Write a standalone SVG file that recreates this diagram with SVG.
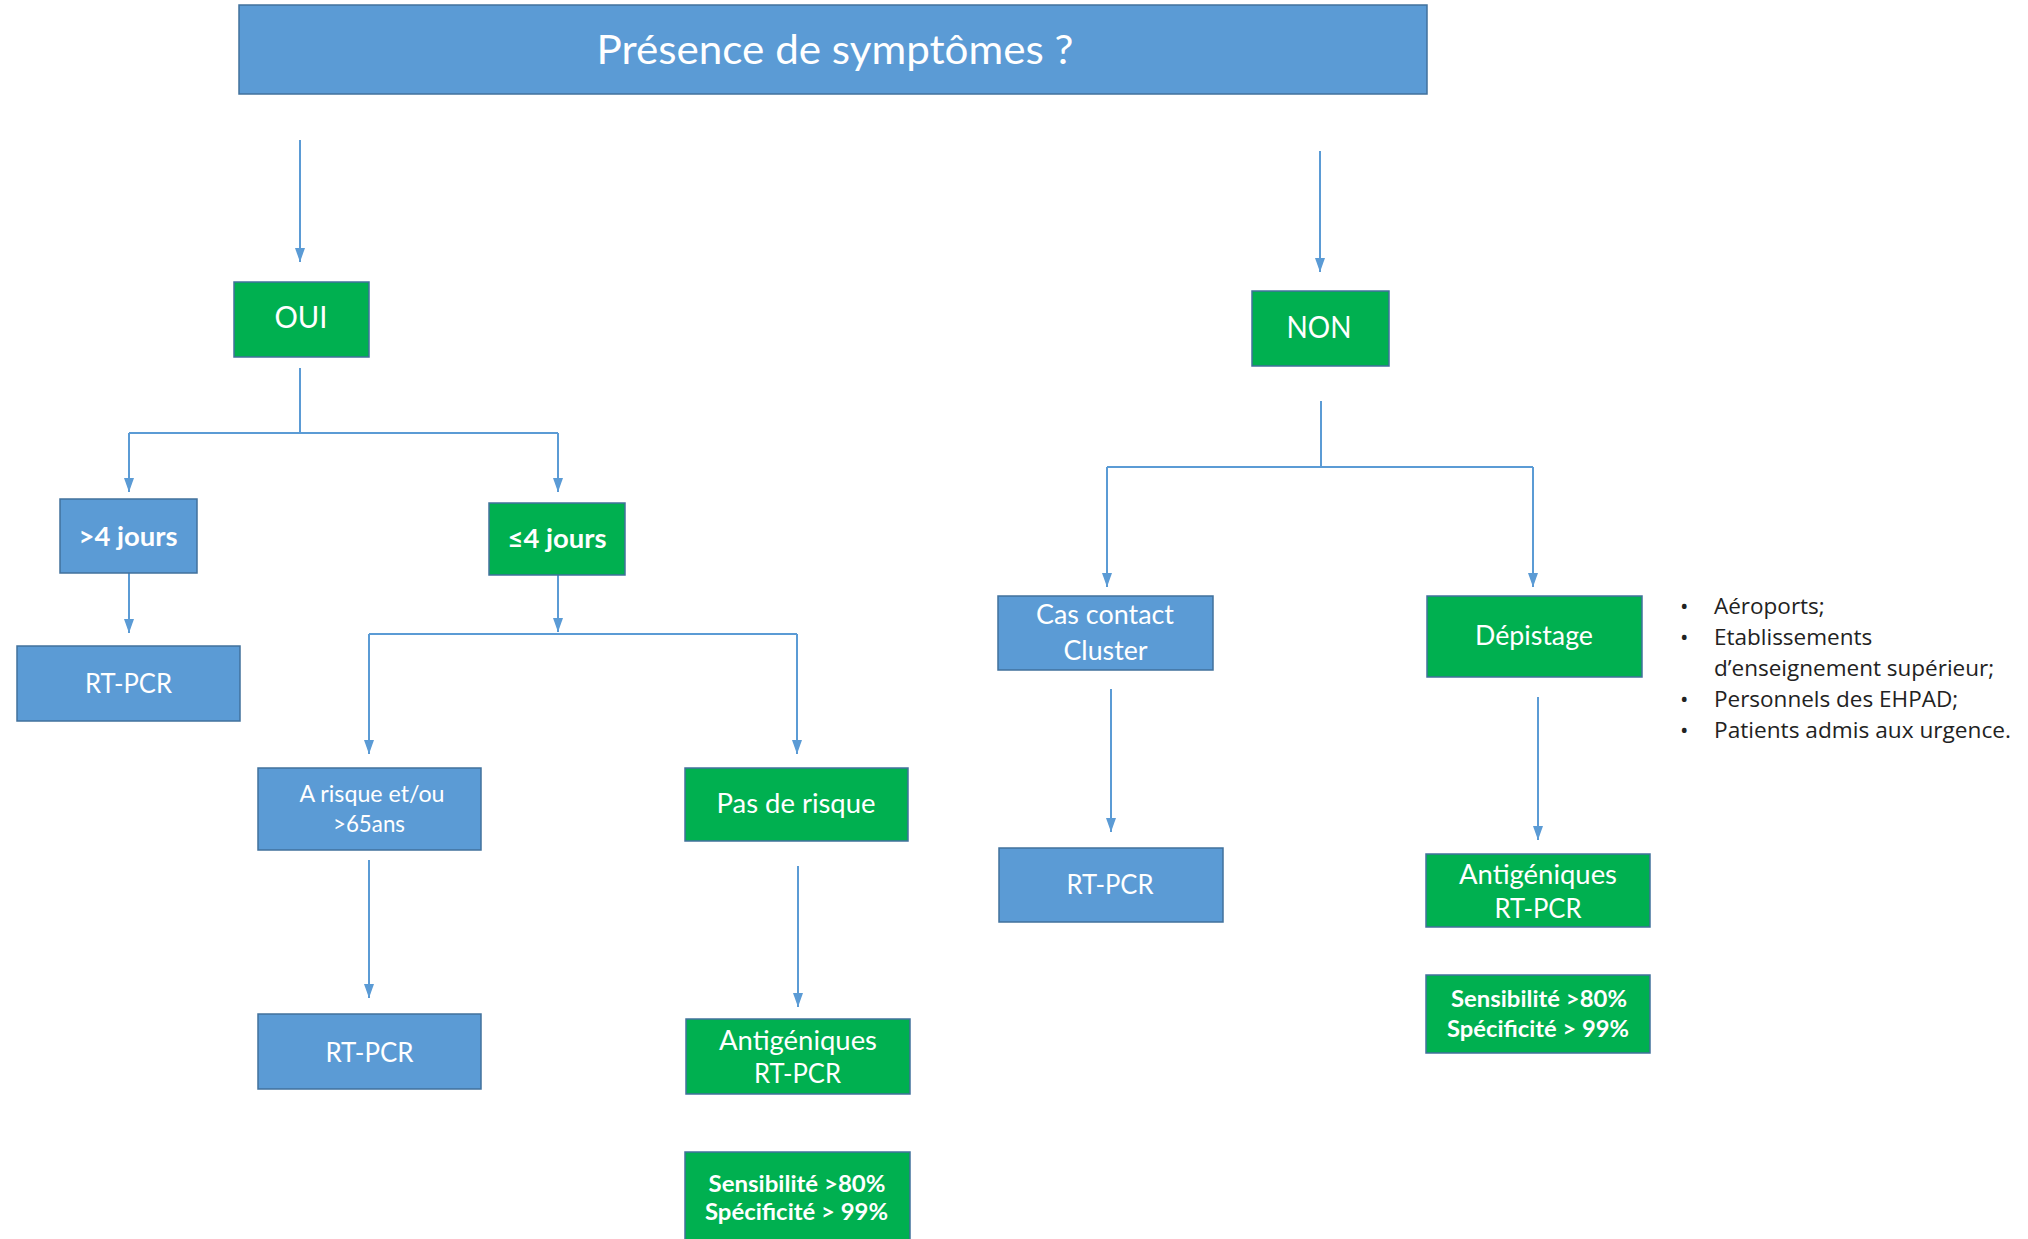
<svg xmlns="http://www.w3.org/2000/svg" width="2028" height="1239" viewBox="0 0 2028 1239">
<style>
.b{fill:#5B9BD5;stroke:#41719C;stroke-width:1.5}
.g{fill:#00B050;stroke:#41719C;stroke-width:1.5}
.t{font-family:Lato,"Liberation Sans",sans-serif;fill:#fff;text-anchor:middle}
.bd{font-weight:bold}
.c{fill:none;stroke:#5B9BD5;stroke-width:2}
.l{font-family:"Open Sans","Liberation Sans",sans-serif;fill:#222;font-size:22.5px}
</style>
<defs>
<marker id="ar" viewBox="0 0 14 10" refX="14" refY="5" markerWidth="14" markerHeight="10" orient="auto" markerUnits="userSpaceOnUse">
<path d="M0,0 L14,5 L0,10 z" fill="#5B9BD5"/>
</marker>
</defs>
<rect width="2028" height="1239" fill="#fff"/>
<g id="connectors">
<path class="c" d="M300,140 V262" marker-end="url(#ar)"/>
<path class="c" d="M1320,151 V272" marker-end="url(#ar)"/>
<path class="c" d="M300,368 V433 M129,433 H558"/>
<path class="c" d="M129,433 V492" marker-end="url(#ar)"/>
<path class="c" d="M558,433 V492" marker-end="url(#ar)"/>
<path class="c" d="M129,573 V633" marker-end="url(#ar)"/>
<path class="c" d="M558,575 V632" marker-end="url(#ar)"/>
<path class="c" d="M369,634 H797"/>
<path class="c" d="M369,634 V754" marker-end="url(#ar)"/>
<path class="c" d="M797,634 V754" marker-end="url(#ar)"/>
<path class="c" d="M369,860 V998" marker-end="url(#ar)"/>
<path class="c" d="M798,866 V1007" marker-end="url(#ar)"/>
<path class="c" d="M1321,401 V467 M1107,467 H1533"/>
<path class="c" d="M1107,467 V587" marker-end="url(#ar)"/>
<path class="c" d="M1533,467 V587" marker-end="url(#ar)"/>
<path class="c" d="M1111,689 V832" marker-end="url(#ar)"/>
<path class="c" d="M1538,697 V840" marker-end="url(#ar)"/>
</g>
<g id="title">
<rect class="b" x="239" y="5" width="1188" height="89"/>
<text class="t" x="835" y="64" font-size="40.5" textLength="477" lengthAdjust="spacingAndGlyphs">Présence de symptômes ?</text>
</g>
<g id="oui">
<rect class="g" x="234" y="282" width="135" height="75"/>
<text class="t" x="301" y="328" font-size="30" textLength="53" lengthAdjust="spacingAndGlyphs">OUI</text>
</g>
<g id="non">
<rect class="g" x="1252" y="291" width="137" height="75"/>
<text class="t" x="1319" y="338" font-size="30" textLength="65" lengthAdjust="spacingAndGlyphs">NON</text>
</g>
<g id="plus4">
<rect class="b" x="60" y="499" width="137" height="74"/>
<text class="t bd" x="128" y="546" font-size="27" textLength="99" lengthAdjust="spacingAndGlyphs">&gt;4 jours</text>
</g>
<g id="moins4">
<rect class="g" x="489" y="503" width="136" height="72"/>
<text class="t bd" x="557" y="548" font-size="27" textLength="99" lengthAdjust="spacingAndGlyphs">≤4 jours</text>
</g>
<g id="rtpcr1">
<rect class="b" x="17" y="646" width="223" height="75"/>
<text class="t" x="128.5" y="693" font-size="27" textLength="87" lengthAdjust="spacingAndGlyphs">RT-PCR</text>
</g>
<g id="arisque">
<rect class="b" x="258" y="768" width="223" height="82"/>
<text class="t" x="372" y="802" font-size="22.5" textLength="145" lengthAdjust="spacingAndGlyphs">A risque et/ou</text>
<text class="t" x="369" y="832" font-size="22.5" textLength="72" lengthAdjust="spacingAndGlyphs">&gt;65ans</text>
</g>
<g id="pasrisque">
<rect class="g" x="685" y="768" width="223" height="73"/>
<text class="t" x="796" y="813" font-size="27" textLength="159" lengthAdjust="spacingAndGlyphs">Pas de risque</text>
</g>
<g id="rtpcr2">
<rect class="b" x="258" y="1014" width="223" height="75"/>
<text class="t" x="369.5" y="1062" font-size="27" textLength="88" lengthAdjust="spacingAndGlyphs">RT-PCR</text>
</g>
<g id="antig1">
<rect class="g" x="686" y="1019" width="224" height="75"/>
<text class="t" x="798" y="1050" font-size="27" textLength="158" lengthAdjust="spacingAndGlyphs">Antigéniques</text>
<text class="t" x="797.5" y="1083" font-size="27" textLength="87" lengthAdjust="spacingAndGlyphs">RT-PCR</text>
</g>
<g id="sens1">
<rect class="g" x="685" y="1152" width="225" height="95"/>
<text class="t bd" x="797" y="1192" font-size="23.5" textLength="177" lengthAdjust="spacingAndGlyphs">Sensibilité &gt;80%</text>
<text class="t bd" x="796.5" y="1220" font-size="23.5" textLength="183" lengthAdjust="spacingAndGlyphs">Spécificité &gt; 99%</text>
</g>
<g id="cascontact">
<rect class="b" x="998" y="596" width="215" height="74"/>
<text class="t" x="1105" y="624" font-size="27" textLength="138" lengthAdjust="spacingAndGlyphs">Cas contact</text>
<text class="t" x="1105.5" y="660" font-size="27" textLength="84" lengthAdjust="spacingAndGlyphs">Cluster</text>
</g>
<g id="depistage">
<rect class="g" x="1427" y="596" width="215" height="81"/>
<text class="t" x="1534" y="645" font-size="27" textLength="118" lengthAdjust="spacingAndGlyphs">Dépistage</text>
</g>
<g id="rtpcr3">
<rect class="b" x="999" y="848" width="224" height="74"/>
<text class="t" x="1110" y="894" font-size="27" textLength="87" lengthAdjust="spacingAndGlyphs">RT-PCR</text>
</g>
<g id="antig2">
<rect class="g" x="1426" y="854" width="224" height="73"/>
<text class="t" x="1538" y="884" font-size="27" textLength="158" lengthAdjust="spacingAndGlyphs">Antigéniques</text>
<text class="t" x="1538" y="918" font-size="27" textLength="87" lengthAdjust="spacingAndGlyphs">RT-PCR</text>
</g>
<g id="sens2">
<rect class="g" x="1426" y="975" width="224" height="78"/>
<text class="t bd" x="1539" y="1007" font-size="23.5" textLength="176" lengthAdjust="spacingAndGlyphs">Sensibilité &gt;80%</text>
<text class="t bd" x="1538" y="1037" font-size="23.5" textLength="182" lengthAdjust="spacingAndGlyphs">Spécificité &gt; 99%</text>
</g>
<g id="liste">
<text class="l" x="1680" y="614">•</text><text class="l" x="1714" y="614">Aéroports;</text>
<text class="l" x="1680" y="645">•</text><text class="l" x="1714" y="645">Etablissements</text>
<text class="l" x="1714" y="676">d’enseignement supérieur;</text>
<text class="l" x="1680" y="707">•</text><text class="l" x="1714" y="707">Personnels des EHPAD;</text>
<text class="l" x="1680" y="738">•</text><text class="l" x="1714" y="738" textLength="297" lengthAdjust="spacingAndGlyphs">Patients admis aux urgence.</text>
</g>
</svg>
